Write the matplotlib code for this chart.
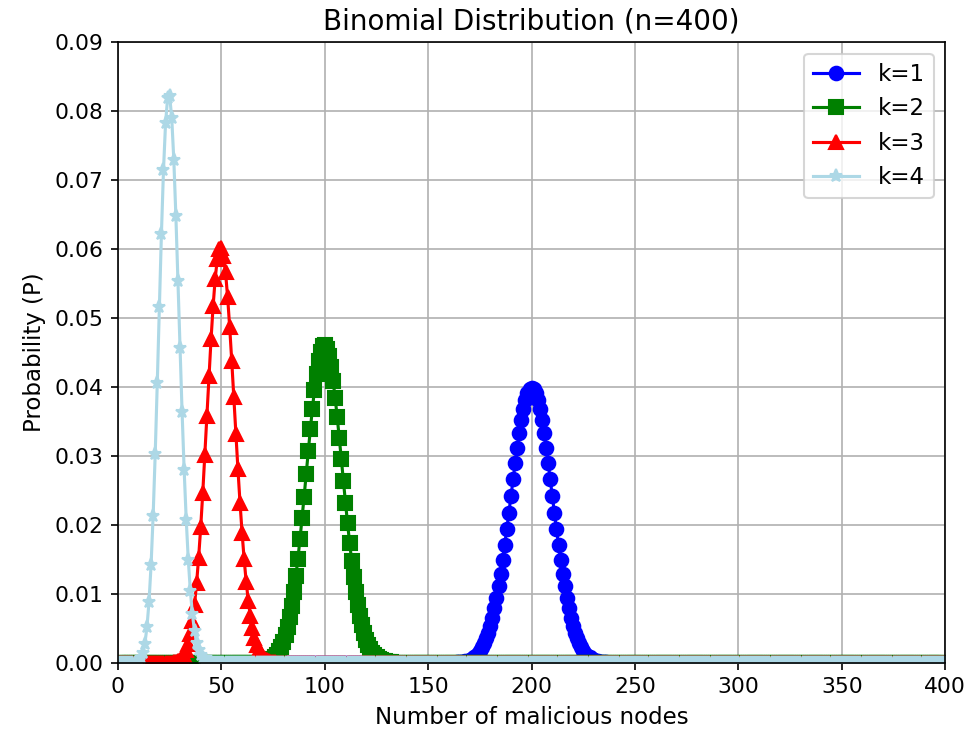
import numpy as np
import matplotlib
matplotlib.use("Agg")
import matplotlib.pyplot as plt

n = 400
labels = ["k=1", "k=2", "k=3", "k=4"]

# non-zero part of each curve (everything else is ~0)
k1_start = 160
k1_vals = [0.00001, 0.00002, 0.00003, 0.00004, 0.00006, 0.00009, 0.00012, 0.00017, 0.00024, 0.00033,
           0.00044, 0.00059, 0.00079, 0.00104, 0.00136, 0.00175, 0.00224, 0.00283, 0.00355, 0.00440,
           0.00540, 0.00656, 0.00789, 0.00940, 0.01109, 0.01294, 0.01496, 0.01713, 0.01941, 0.02177,
           0.02418, 0.02659, 0.02895, 0.03121, 0.03330, 0.03519, 0.03681, 0.03812, 0.03908, 0.03967,
           0.03987,
           0.03967, 0.03908, 0.03812, 0.03681, 0.03519, 0.03330, 0.03121, 0.02895, 0.02659, 0.02418,
           0.02177, 0.01941, 0.01713, 0.01496, 0.01294, 0.01109, 0.00940, 0.00789, 0.00656, 0.00540,
           0.00440, 0.00355, 0.00283, 0.00224, 0.00175, 0.00136, 0.00104, 0.00079, 0.00059, 0.00044,
           0.00033, 0.00024, 0.00017, 0.00012, 0.00009, 0.00006, 0.00004, 0.00003, 0.00002, 0.00001]

k2_start = 67
k2_vals = [0.00002, 0.00003, 0.00005, 0.00008, 0.00012, 0.00019, 0.00028, 0.00042, 0.00060, 0.00086,
           0.00121, 0.00167, 0.00226, 0.00303, 0.00399, 0.00517, 0.00660, 0.00830, 0.01029, 0.01256,
           0.01512, 0.01792, 0.02094, 0.02412, 0.02739, 0.03067, 0.03385, 0.03685, 0.03957, 0.04191,
           0.04378, 0.04512, 0.04588, 0.04603, 0.04557, 0.04453, 0.04295, 0.04088, 0.03842, 0.03564,
           0.03264, 0.02952, 0.02636, 0.02324, 0.02024, 0.01741, 0.01479, 0.01241, 0.01029, 0.00843,
           0.00682, 0.00545, 0.00431, 0.00336, 0.00259, 0.00198, 0.00149, 0.00111, 0.00082, 0.00059,
           0.00043, 0.00030, 0.00021, 0.00015, 0.00010, 0.00007, 0.00005, 0.00003, 0.00002]

k3_start = 25
k3_vals = [0.00002, 0.00003, 0.00007, 0.00012, 0.00023, 0.00040, 0.00069, 0.00113, 0.00180, 0.00277,
           0.00414, 0.00600, 0.00843, 0.01151, 0.01526, 0.01967, 0.02468, 0.03013, 0.03584, 0.04154,
           0.04694, 0.05175, 0.05569, 0.05851, 0.06004, 0.06021, 0.05903, 0.05660, 0.05309, 0.04874,
           0.04380, 0.03855, 0.03323, 0.02808, 0.02325, 0.01888, 0.01503, 0.01174, 0.00900, 0.00677,
           0.00500, 0.00363, 0.00258, 0.00181, 0.00124, 0.00084, 0.00056, 0.00036, 0.00023, 0.00015,
           0.00009, 0.00006, 0.00003, 0.00002]

k4_start = 7
k4_vals = [0.00001, 0.00004, 0.00011, 0.00028, 0.00065, 0.00140, 0.00279, 0.00515, 0.00883, 0.01417,
           0.02134, 0.03027, 0.04057, 0.05153, 0.06216, 0.07139, 0.07822, 0.08191, 0.08213, 0.07897,
           0.07293, 0.06476, 0.05538, 0.04566, 0.03633, 0.02793, 0.02077, 0.01494, 0.01042, 0.00704,
           0.00462, 0.00294, 0.00182, 0.00110, 0.00064, 0.00037, 0.00020, 0.00011, 0.00006, 0.00003,
           0.00002]


def full_curve(start, vals):
    y = np.zeros(n + 1)
    y[start:start + len(vals)] = vals
    return y


x = np.arange(0, n + 1)
curves = [full_curve(k1_start, k1_vals), full_curve(k2_start, k2_vals),
          full_curve(k3_start, k3_vals), full_curve(k4_start, k4_vals)]
styles = [("blue", "o"), ("green", "s"), ("red", "^"), ("lightblue", "*")]

fig = plt.figure(figsize=(971 / 150, 739 / 150), dpi=150)
ax = fig.add_axes([0.1215, 0.103, 0.852, 0.84])

for y, (c, m), lab in zip(curves, styles, labels):
    ax.plot(x, y, color=c, marker=m, markersize=6.5, linestyle="-", label=lab)

ax.set_xlim(0, 400)
ax.set_ylim(0, 0.09)
ax.set_xticks(np.arange(0, 401, 50))
ax.set_yticks(np.arange(0, 0.0901, 0.01))
ax.tick_params(labelsize=10.5)
ax.set_title("Binomial Distribution (n=400)", fontsize=13.3)
ax.set_xlabel("Number of malicious nodes", fontsize=11)
ax.set_ylabel("Probability (P)", fontsize=11)
ax.grid(True)
ax.legend(loc="upper right", fontsize=11)

fig.savefig("out.png", dpi=150)
